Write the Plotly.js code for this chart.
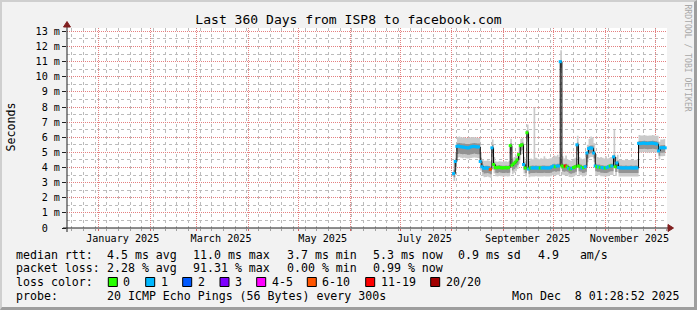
<!DOCTYPE html>
<html><head><meta charset="utf-8">
<script src="https://cdn.plot.ly/plotly-3.0.1.min.js"></script>
<style>
html,body{margin:0;padding:0;background:#F2F2F2;}
#wrap{position:relative;width:697px;height:310px;overflow:hidden;}
#chart{width:697px;height:310px;}
#frame{position:absolute;left:0;top:0;width:697px;height:310px;box-sizing:border-box;border-top:2px solid #CFCFCF;border-left:2px solid #CFCFCF;border-bottom:3px solid #9E9E9E;border-right:3px solid #9E9E9E;pointer-events:none;}
</style></head>
<body><div id="wrap"><div id="chart"></div><div id="frame"></div></div>
<script>
// ---------------- data (one value per day, first day below) ----------------
const firstDay = '2025-08-02';
const median = [
3.60,4.40,5.40,5.42,5.38,5.36,5.35,5.33,5.30,5.30,5.35,5.38,5.40,5.38,5.36,5.36,
4.40,4.05,3.95,3.97,3.98,3.95,3.88,5.30,4.20,4.00,3.98,4.02,4.00,3.97,3.98,4.00,
3.97,4.00,5.45,4.15,4.25,4.35,4.50,4.85,5.45,5.50,4.20,3.97,6.30,3.90,3.97,3.97,
3.97,3.98,3.97,3.97,3.97,3.97,3.98,3.97,3.97,3.97,3.98,4.05,4.10,4.05,4.10,4.10,
11.00,4.10,4.05,4.10,4.05,3.95,3.90,3.95,4.00,4.05,5.50,4.10,4.05,3.97,4.00,4.05,
4.96,5.25,5.30,5.28,4.96,4.10,4.05,4.05,4.00,4.00,3.97,3.97,4.00,4.05,4.10,4.10,
4.70,4.05,4.30,4.00,3.98,3.97,3.97,3.98,3.97,3.97,3.98,3.97,3.97,3.98,3.97,5.60,
5.58,5.60,5.62,5.60,5.58,5.60,5.60,5.62,5.60,5.58,5.55,5.10,5.30,5.30,5.32,5.30];
const lostPings = [
1,1,1,1,1,1,1,1,1,1,1,1,1,1,1,1,
1,1,1,1,1,1,7,1,0,0,0,0,0,0,0,0,
0,0,0,0,0,0,0,0,0,0,1,0,0,1,0,1,
1,1,1,1,0,1,1,1,1,1,1,1,1,0,1,1,
1,0,0,12,0,1,0,1,0,0,1,0,0,1,0,1,
1,1,1,1,1,1,0,1,0,1,1,0,1,1,0,1,
1,0,1,1,1,1,1,1,1,1,1,1,1,1,1,1,
1,1,1,1,1,1,1,1,1,1,1,1,1,1,1,1];
const smokeMin = [
3.10,3.80,4.65,4.68,4.65,4.62,4.64,4.62,4.60,4.60,4.63,4.65,4.66,4.65,4.63,4.62,
3.80,3.45,3.35,3.38,3.40,3.36,3.30,4.70,3.60,3.42,3.40,3.44,3.42,3.40,3.40,3.42,
3.40,3.42,4.85,3.55,3.65,3.75,3.90,4.25,4.85,4.90,3.60,3.40,5.70,3.35,3.40,3.41,
3.40,3.42,3.40,3.40,3.40,3.41,3.42,3.40,3.40,3.40,3.42,3.48,3.52,3.48,3.52,3.52,
10.30,3.52,3.48,3.50,3.48,3.38,3.35,3.38,3.42,3.48,4.85,3.52,3.48,3.40,3.42,3.48,
4.35,4.65,4.70,4.70,4.35,3.50,3.48,3.48,3.42,3.42,3.40,3.40,3.42,3.48,3.50,3.50,
4.10,3.45,3.70,3.40,3.41,3.40,3.40,3.41,3.40,3.40,3.41,3.40,3.40,3.41,3.40,5.00,
5.00,5.01,5.02,5.00,4.99,5.00,5.00,5.02,5.00,4.99,4.95,4.55,4.75,4.75,4.76,4.75];
const smokeLo = [
3.35,4.05,4.90,4.92,4.90,4.88,4.90,4.88,4.85,4.85,4.88,4.90,4.92,4.90,4.88,4.88,
4.05,3.70,3.60,3.62,3.64,3.60,3.55,4.95,3.85,3.66,3.64,3.68,3.66,3.63,3.64,3.66,
3.63,3.66,5.10,3.80,3.90,4.00,4.15,4.50,5.10,5.15,3.85,3.63,5.95,3.58,3.63,3.64,
3.63,3.65,3.63,3.63,3.63,3.64,3.65,3.63,3.63,3.63,3.65,3.72,3.76,3.72,3.76,3.76,
10.60,3.76,3.72,3.75,3.72,3.62,3.58,3.62,3.66,3.72,5.10,3.76,3.72,3.63,3.66,3.72,
4.60,4.90,4.95,4.95,4.60,3.75,3.72,3.72,3.66,3.66,3.63,3.63,3.66,3.72,3.75,3.75,
4.35,3.70,3.95,3.64,3.64,3.63,3.63,3.64,3.63,3.63,3.64,3.63,3.63,3.64,3.63,5.22,
5.22,5.23,5.24,5.22,5.21,5.22,5.22,5.24,5.22,5.21,5.18,4.78,4.98,4.98,4.99,4.98];
const smokeHi = [
3.85,4.60,5.60,5.62,5.60,5.58,5.58,5.56,5.55,5.55,5.58,5.60,5.62,5.60,5.58,5.58,
4.65,4.20,4.10,4.12,4.12,4.10,4.05,5.50,4.35,4.15,4.12,4.16,4.14,4.12,4.12,4.14,
4.12,4.15,5.60,4.30,4.40,4.50,4.65,5.00,5.60,5.65,4.35,4.12,6.45,4.05,4.12,4.13,
4.12,4.14,4.12,4.12,4.12,4.13,4.14,4.12,4.12,4.12,4.14,4.20,4.25,4.20,4.25,4.25,
11.10,4.25,4.20,4.25,4.20,4.10,4.05,4.10,4.15,4.20,5.65,4.25,4.20,4.12,4.15,4.20,
5.10,5.40,5.45,5.45,5.10,4.25,4.20,4.20,4.15,4.15,4.12,4.12,4.15,4.20,4.25,4.25,
4.85,4.20,4.45,4.13,4.13,4.12,4.12,4.13,4.12,4.12,4.13,4.12,4.12,4.13,4.12,5.75,
5.75,5.76,5.77,5.75,5.74,5.75,5.75,5.77,5.75,5.74,5.70,5.28,5.48,5.48,5.49,5.48];
const smokeMax = [
4.30,5.00,6.00,6.05,6.00,5.98,6.00,5.95,5.95,5.98,6.00,6.02,6.00,5.98,5.96,5.95,
5.00,4.55,4.45,4.45,4.48,4.45,4.40,5.85,4.70,4.40,4.38,4.42,4.40,4.38,4.40,4.42,
4.38,4.45,5.90,4.60,4.70,4.80,4.95,5.35,5.90,5.95,4.70,4.45,6.85,4.45,4.60,4.55,
8.00,4.65,4.60,4.55,4.62,4.58,4.75,4.60,4.55,4.60,4.62,4.70,4.80,4.75,4.85,4.70,
11.75,4.75,4.60,4.80,4.55,4.50,4.45,4.50,4.60,4.65,6.10,4.70,4.60,4.55,4.60,4.70,
5.50,5.90,6.05,6.00,5.60,4.75,4.70,4.65,4.70,4.65,4.60,4.75,4.60,4.65,4.70,4.80,
6.50,4.70,4.85,4.50,4.52,4.50,4.48,4.55,4.50,4.50,4.52,4.50,4.48,4.52,4.50,6.15,
6.12,6.12,6.15,6.12,6.10,6.12,6.12,6.15,6.12,6.10,6.10,5.70,5.85,5.85,5.88,5.85];

const lossLabels = ['0','1','2','3','4-5','6-10','11-19','20/20'];
const lossColors = ['#26ff00','#00b8ff','#0059ff','#7e00ff','#ff00ff','#ff5500','#ff0000','#a10000'];

const yTickVals = [0,1,2,3,4,5,6,7,8,9,10,11,12,13];
const yTickText = ['0\u00a0\u00a0','1 m','2 m','3 m','4 m','5 m','6 m','7 m','8 m','9 m','10 m','11 m','12 m','13 m'];
const yMinorVals = [0.5,1.5,2.5,3.5,4.5,5.5,6.5,7.5,8.5,9.5,10.5,11.5,12.5];
const monthLabelDates = ['2025-01-15 12:00','2025-03-15 12:00','2025-05-15 12:00','2025-07-15 12:00','2025-09-15 12:00','2025-11-15 12:00'];
const monthLabels = ['January 2025','March 2025','May 2025','July 2025','September 2025','November 2025'];

const titleText = 'Last 360 Days from ISP8 to facebook.com';
const rangeStart = '2024-12-13 01:28:52', rangeEnd = '2025-12-08 01:28:52';
const rttStats = [['4.5','avg'],['11.0','max'],['3.7','min'],['5.3','now'],['0.9','sd']];
const amps = '4.9';
const lossStats = [['2.28','avg'],['91.31','max'],['0.00','min'],['0.99','now']];
const probeText = '20 ICMP Echo Pings (56 Bytes) every 300s';
const stampText = 'Mon Dec  8 01:28:52 2025';

// ---------------- build ----------------
const days = median.map((_, i) => {
  const d = new Date(firstDay + 'T00:00:00Z'); d.setUTCDate(d.getUTCDate() + i);
  return d.toISOString().slice(0, 10);
});
function bucket(n){ if(n<=0) return 0; if(n===1) return 1; if(n===2) return 2; if(n===3) return 3; if(n<=5) return 4; if(n<=10) return 5; if(n<=19) return 6; return 7; }
const markerColors = lostPings.map(n => lossColors[bucket(n)]);

const MONO = 'DejaVu Sans Mono';
const L = 67, R = 667, T = 28, B = 228;
const px = v => (v - L) / (R - L);
const py = v => (B - v) / (B - T);
const nb = s => s.replace(/ /g, '\u00a0');

const outerSmoke = '#CACACA', innerSmoke = '#939393';
const D = {xaxis:'x2', yaxis:'y2', hoverinfo:'skip'};
const traces = [
  {x: monthLabelDates, y: monthLabelDates.map(() => null), xaxis:'x', yaxis:'y', mode:'markers', hoverinfo:'skip'},
  Object.assign({x: days, y: smokeMin, mode:'lines', line:{width:0, shape:'hv'}}, D),
  Object.assign({x: days, y: smokeMax, mode:'lines', line:{width:0, shape:'hv'}, fill:'tonexty', fillcolor: outerSmoke}, D),
  Object.assign({x: days, y: smokeLo, mode:'lines', line:{width:0, shape:'hv'}}, D),
  Object.assign({x: days, y: smokeHi, mode:'lines', line:{width:0, shape:'hv'}, fill:'tonexty', fillcolor: innerSmoke}, D),
  Object.assign({x: days, y: median, mode:'lines', line:{width:1, color:'#000', shape:'hv'}}, D),
  Object.assign({x: days, y: median, mode:'markers', marker:{symbol:'square', size:3, color: markerColors, line:{width:0}}}, D),
  {x: monthLabelDates, y: monthLabelDates.map(() => null), xaxis:'x3', yaxis:'y2', mode:'markers', hoverinfo:'skip'}
];

const majorGrid = '#E48080', minorGrid = '#BBBBBB';
const shapes = [
  {type:'rect', xref:'paper', yref:'paper', x0:0, x1:1, y0:0, y1:1, layer:'below', fillcolor:'#FFFFFF', line:{width:0}}
];
const ann = [];
function text(s, x, y, opt){ ann.push(Object.assign({text: nb(s), x: px(x), y: py(y), xref:'paper', yref:'paper', showarrow:false, xanchor:'left', yanchor:'middle', borderpad:0, font:{family:MONO, size:11.6, color:'#000'}}, opt||{})); }

const col = [107.3, 193.3, 286.7, 372.7, 458.3, 537.7];
text('median rtt:', 15, 254.5);
rttStats.forEach((s, i) => text(s[0] + ' ms ' + s[1], col[i] - 1, 254.5));
text(amps + '   am/s', col[5] - 1, 254.5);
text('packet loss:', 15, 268);
lossStats.forEach((s, i) => text(s[0] + ' % ' + s[1], col[i] - 1, 268));
text('loss color:', 15, 282);
const boxL = [108.3,145.7,182.7,220,256.7,307.3,365.7,430.7];
lossLabels.forEach((lab, i) => {
  shapes.push({type:'rect', xref:'paper', yref:'paper', x0: px(boxL[i]), x1: px(boxL[i] + 9), y0: py(277.5), y1: py(286.5), line:{color:'#000', width:1}, fillcolor: lossColors[i]});
  text(lab, boxL[i] + 14, 282);
});
text('probe:', 15, 296);
text(probeText, col[0] - 1, 296);
text(stampText, 681, 296, {xanchor:'right'});
text('Seconds', 10.5, 127, {textangle:-90, xanchor:'center'});
text('RRDTOOL / TOBI OETIKER', 687.5, 58, {textangle:90, xanchor:'center', font:{family:MONO, size:8.1, color:'#A8A8A8'}});

const arrowCol = '#801F1F', axisCol = '#1F1F1F';
shapes.push({type:'line', xref:'paper', yref:'paper', x0:px(63), x1:px(669), y0:0, y1:0, line:{color:axisCol, width:1}});
shapes.push({type:'line', xref:'paper', yref:'paper', x0:0, x1:0, y0:py(232), y1:py(26), line:{color:axisCol, width:1}});
shapes.push({type:'path', xref:'paper', yref:'paper', path:`M ${px(668)} ${py(224.5)} L ${px(673.5)} ${py(228)} L ${px(668)} ${py(231.5)} Z`, fillcolor:arrowCol, line:{color:arrowCol, width:1}});
shapes.push({type:'path', xref:'paper', yref:'paper', path:`M ${px(63.5)} ${py(27)} L ${px(67)} ${py(21.5)} L ${px(70.5)} ${py(27)} Z`, fillcolor:arrowCol, line:{color:arrowCol, width:1}});

const common = {showline:false, zeroline:false, fixedrange:true};
const layout = {
  width:697, height:310,
  margin:{l:67, r:30, t:28, b:82, pad:0},
  paper_bgcolor:'#F2F2F2', plot_bgcolor:'rgba(0,0,0,0)',
  showlegend:false, hovermode:false,
  font:{family:MONO, size:11.6, color:'#000'},
  title:{text:titleText, font:{family:MONO, size:13.05, color:'#000'}, x:0.5, xref:'container', xanchor:'center', y:1 - 19.5/310, yref:'container', yanchor:'middle'},
  xaxis:Object.assign({type:'date', anchor:'y', range:[rangeStart, rangeEnd], tickmode:'linear', tick0:'2024-12-16', dtick:7*86400000, showticklabels:false,
    ticks:'outside', ticklen:2, tickcolor:'#A0A0A0', showgrid:true, gridcolor:minorGrid, griddash:'dot', gridwidth:1}, common),
  yaxis:Object.assign({anchor:'x', range:[0, 13.225], tickmode:'array', tickvals:yMinorVals, showticklabels:false, ticks:'',
    showgrid:true, gridcolor:minorGrid, griddash:'dot', gridwidth:1}, common),
  xaxis2:Object.assign({type:'date', anchor:'y2', range:[rangeStart, rangeEnd], tickmode:'linear', tick0:'2025-01-01', dtick:'M1', showticklabels:false,
    ticks:'outside', ticklen:2, tickcolor:'#D86060', showgrid:true, gridcolor:majorGrid, griddash:'1px,1px', gridwidth:1}, common),
  yaxis2:Object.assign({anchor:'x2', range:[0, 13.225], tickmode:'array', tickvals:yTickVals, ticktext:yTickText, ticks:'outside', ticklen:4, tickcolor:axisCol, tickwidth:1,
    tickfont:{family:MONO, size:10.15, color:'#000'}, showgrid:true, gridcolor:majorGrid, griddash:'1px,1px', gridwidth:1}, common),
  xaxis3:Object.assign({type:'date', overlaying:'x2', anchor:'y2', side:'bottom', range:[rangeStart, rangeEnd], tickmode:'array', tickvals:monthLabelDates, ticktext:monthLabels,
    showgrid:false, ticks:'', tickfont:{family:MONO, size:10.15, color:'#000'}, ticklabelstandoff:3}, common),
  annotations: ann,
  shapes: shapes
};
Plotly.newPlot('chart', traces, layout, {staticPlot:true, displayModeBar:false});
</script></body></html>
